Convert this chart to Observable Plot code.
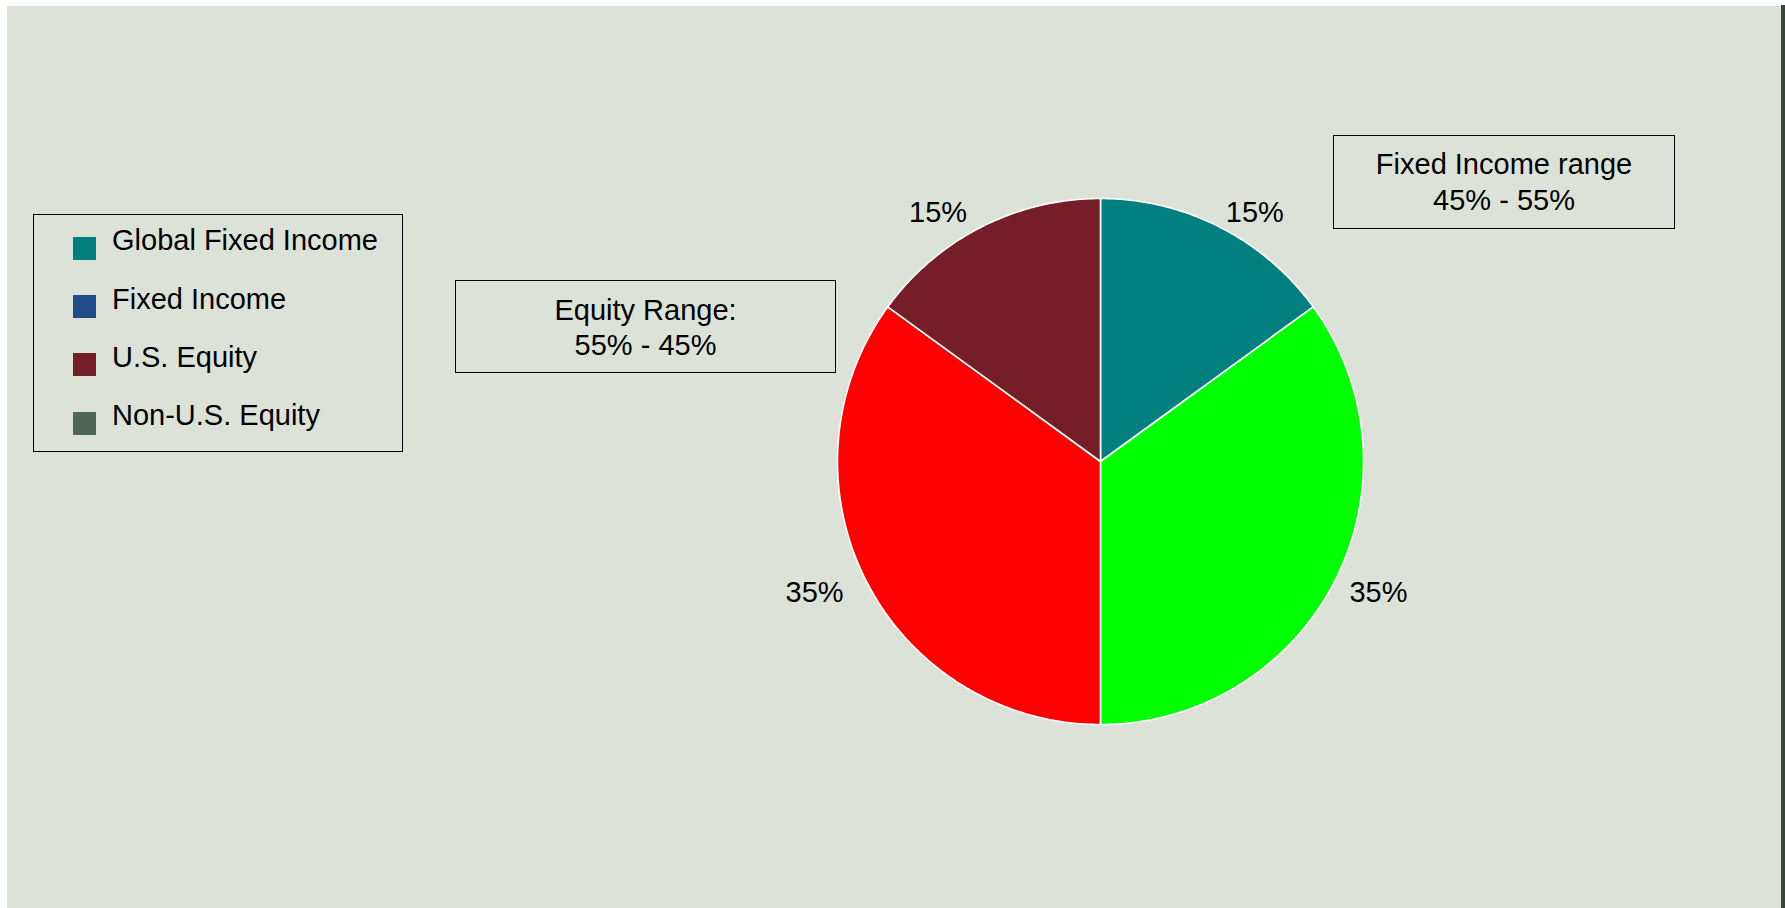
<!DOCTYPE html>
<html>
<head>
<meta charset="utf-8">
<script src="https://cdn.jsdelivr.net/npm/d3@7"></script>
<script src="https://cdn.jsdelivr.net/npm/@observablehq/plot@0.6"></script>
<style>
  html, body { margin: 0; padding: 0; background: #ffffff; }
  #stage { position: relative; width: 1785px; height: 908px; overflow: hidden;
           font-family: "Liberation Sans", Arial, Helvetica, sans-serif; color: #000; }
  #panel { position: absolute; left: 7px; top: 6px; width: 1774px; height: 902px; background: #dce2d8; }
  #edge { position: absolute; left: 1781px; top: 5px; width: 4px; height: 903px; background: #33483a; }
  #chart { position: absolute; left: 0; top: 0; }
  .box { position: absolute; box-sizing: border-box; border: 1.5px solid #000; }
  .txt { position: absolute; font-size: 29px; white-space: nowrap; }
  .sw { position: absolute; width: 23px; height: 23px; }
</style>
</head>
<body>
<div id="stage">
  <div id="panel"></div>
  <div id="edge"></div>
  <div id="chart"></div>
</div>
<script>
// ---- data ----
const sliceNames  = ["Global Fixed Income", "Fixed Income", "Non-U.S. Equity", "U.S. Equity"];
const sliceValues = [15, 35, 35, 15];
const sliceColors = ["#007f7f", "#00ff00", "#ff0000", "#761e27"];

const legendNames  = ["Global Fixed Income", "Fixed Income", "U.S. Equity", "Non-U.S. Equity"];
const legendColors = ["#007f7f", "#1f4b8a", "#761e27", "#4e6656"];

const boxEquity = ["Equity Range:", "55% - 45%"];
const boxFixed  = ["Fixed Income range", "45% - 55%"];

// ---- pie geometry (unit circle, clockwise from top) ----
const total = d3.sum(sliceValues);
let acc = 0;
const slices = sliceNames.map((name, i) => {
  const a0 = acc / total * 2 * Math.PI;
  acc += sliceValues[i];
  const a1 = acc / total * 2 * Math.PI;
  return {name, value: sliceValues[i], a0, a1, mid: (a0 + a1) / 2};
});
const outline = [];
for (const s of slices) {
  outline.push({name: s.name, x: 0, y: 0});
  const n = Math.max(2, Math.ceil((s.a1 - s.a0) / (Math.PI / 360)));
  for (let k = 0; k <= n; k++) {
    const a = s.a0 + (s.a1 - s.a0) * k / n;
    outline.push({name: s.name, x: Math.sin(a), y: Math.cos(a)});
  }
  outline.push({name: s.name, x: 0, y: 0});
}
const lr = 1.075;
const labels = slices.map(s => ({...s, lx: lr * Math.sin(s.mid), ly: lr * Math.cos(s.mid), text: s.value + "%"}));

const cx = 1100, cy = 461, r = 263;

const plot = Plot.plot({
  width: 1785,
  height: 908,
  margin: 0,
  style: {background: "transparent", fontFamily: "Liberation Sans, Arial, sans-serif", overflow: "visible"},
  x: {type: "linear", domain: [-1, 1], range: [cx - r, cx + r], axis: null},
  y: {type: "linear", domain: [-1, 1], range: [cy + r, cy - r], axis: null},
  color: {domain: sliceNames, range: sliceColors},
  marks: [
    Plot.line(outline, {x: "x", y: "y", z: "name", fill: "name", stroke: "#ffffff", strokeWidth: 1.6, strokeLinejoin: "miter", curve: "linear"}),
    Plot.text(labels.filter(d => d.mid < Math.PI), {x: "lx", y: "ly", text: "text", textAnchor: "start", lineAnchor: "middle", fontSize: 29, fill: "#000", dx: -3, dy: 3}),
    Plot.text(labels.filter(d => d.mid >= Math.PI), {x: "lx", y: "ly", text: "text", textAnchor: "end", lineAnchor: "middle", fontSize: 29, fill: "#000", dx: -5, dy: 3})
  ]
});
document.getElementById("chart").appendChild(plot);

// ---- legend ----
const stage = document.getElementById("stage");
function el(cls, css, text) {
  const d = document.createElement("div");
  d.className = cls;
  Object.assign(d.style, css);
  if (text !== undefined) d.textContent = text;
  stage.appendChild(d);
  return d;
}
el("box", {left: "33px", top: "214px", width: "370px", height: "238px"});
legendNames.forEach((name, i) => {
  el("sw", {left: "73px", top: (236.7 + i * 58.3) + "px", background: legendColors[i]});
  el("txt", {left: "112px", top: (226.2 + i * 58.3) + "px", lineHeight: "29px"}, name);
});

// ---- annotation boxes ----
el("box", {left: "455px", top: "280px", width: "381px", height: "93px"});
el("txt", {left: "455px", width: "381px", top: "293.4px", lineHeight: "34.5px", textAlign: "center"}).innerHTML = boxEquity.join("<br>");
el("box", {left: "1333px", top: "135px", width: "342px", height: "94px"});
el("txt", {left: "1333px", width: "342px", top: "146.3px", lineHeight: "36px", textAlign: "center"}).innerHTML = boxFixed.join("<br>");
</script>
</body>
</html>
